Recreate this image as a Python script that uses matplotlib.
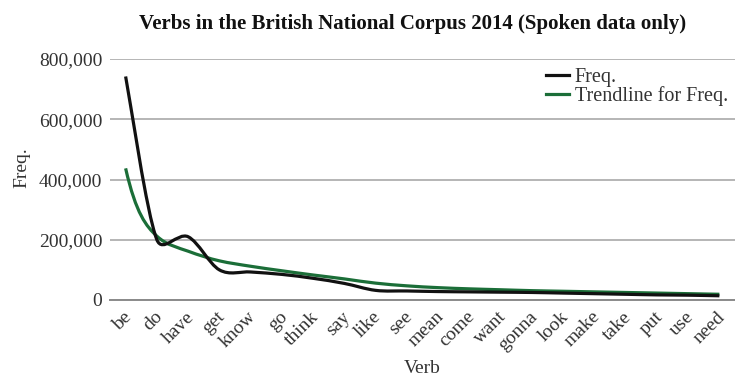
import numpy as np
import matplotlib
matplotlib.use("Agg")
import matplotlib.pyplot as plt
from matplotlib.path import Path
from matplotlib.patches import PathPatch
from matplotlib.lines import Line2D
from matplotlib.ticker import FuncFormatter
import matplotlib.transforms as mtransforms

verbs = ["be", "do", "have", "get", "know", "go", "think", "say", "like", "see",
         "mean", "come", "want", "gonna", "look", "make", "take", "put", "use", "need"]
freq = [742000, 200000, 210000, 100000, 93000, 85000, 72000, 55000, 32000, 30000,
        28000, 27000, 26000, 25000, 23000, 21000, 19000, 17000, 16000, 14000]
trend = [437000, 212000, 162000, 130000, 112000, 97000, 83000, 70000, 56000, 47000,
         41000, 37000, 34000, 31000, 29000, 27000, 25000, 23000, 21000, 19000]
yticks = [0, 200000, 400000, 600000, 800000]

FONT = "Liberation Serif"
plt.rcParams["font.family"] = FONT

fig = plt.figure(figsize=(7.35, 3.81), dpi=100)
ax = fig.add_axes([110 / 735, 81 / 381, 625 / 735, 241 / 381])
ax.set_xlim(-0.5, len(verbs) - 0.5)
ax.set_ylim(0, 800000)


def smooth_path(xs, ys):
    """Excel-like smoothed line: cubic Bezier, control arms computed in display space."""
    fig.canvas.draw()
    pts = ax.transData.transform(np.column_stack([xs, ys]))
    n = len(pts)
    verts = [pts[0]]
    codes = [Path.MOVETO]
    for i in range(n - 1):
        p0 = pts[i - 1] if i > 0 else pts[i]
        p1 = pts[i]
        p2 = pts[i + 1]
        p3 = pts[i + 2] if i + 2 < n else pts[i + 1]
        d12 = np.linalg.norm(p2 - p1)
        t1 = p2 - p0
        t2 = p3 - p1
        n1 = np.linalg.norm(t1)
        n2 = np.linalg.norm(t2)
        a1 = min(n1 / 6, d12 / 2)
        a2 = min(n2 / 6, d12 / 2)
        c1 = p1 + (t1 / n1 * a1 if n1 > 0 else 0)
        c2 = p2 - (t2 / n2 * a2 if n2 > 0 else 0)
        verts += [c1, c2, p2]
        codes += [Path.CURVE4] * 3
    inv = ax.transData.inverted()
    return Path(inv.transform(np.array(verts)), codes)


def power_curve_path(xs, ys):
    """Bezier through the trendline values with tangents of a local power law."""
    xs = np.asarray(xs, float)
    ys = np.asarray(ys, float)
    r = xs + 1.0
    lr, ly = np.log(r), np.log(ys)
    n = len(xs)
    slopes = []
    for i in range(n):
        a, b = max(i - 1, 0), min(i + 1, n - 1)
        expo = (ly[b] - ly[a]) / (lr[b] - lr[a])
        slopes.append(expo * ys[i] / r[i])
    verts = [(xs[0], ys[0])]
    codes = [Path.MOVETO]
    for i in range(n - 1):
        h = xs[i + 1] - xs[i]
        verts += [(xs[i] + h / 3, ys[i] + slopes[i] * h / 3),
                  (xs[i + 1] - h / 3, ys[i + 1] - slopes[i + 1] * h / 3),
                  (xs[i + 1], ys[i + 1])]
        codes += [Path.CURVE4] * 3
    return Path(np.array(verts), codes)


x = np.arange(len(verbs))
black = "#111111"
green = "#1b6e38"
ax.add_patch(PathPatch(power_curve_path(x, trend), fill=False, ec=green, lw=2.3,
                       capstyle="butt", joinstyle="round", zorder=3))
ax.add_patch(PathPatch(smooth_path(x, freq), fill=False, ec=black, lw=2.3,
                       capstyle="butt", joinstyle="round", zorder=4))

ax.set_yticks(yticks)
ax.yaxis.set_major_formatter(FuncFormatter(lambda v, p: f"{int(v):,}"))
ax.set_xticks(x)
ax.set_xticklabels(verbs, rotation=45, ha="right", va="top", rotation_mode="anchor")
ax.tick_params(axis="both", length=0, labelsize=14, colors="#333333")
ax.tick_params(axis="x", pad=6)
ax.tick_params(axis="y", pad=5.5)
shift = mtransforms.ScaledTranslation(-3 / 100, 0, fig.dpi_scale_trans)
for lab in ax.get_xticklabels():
    lab.set_transform(lab.get_transform() + shift)
ax.grid(axis="y", color="#b5b5b5", lw=1.4)
ax.set_axisbelow(True)
for s in ["top", "right", "left"]:
    ax.spines[s].set_visible(False)
ax.spines["bottom"].set_color("#8a8a8a")
ax.spines["bottom"].set_linewidth(1.4)
ax.spines["bottom"].set_zorder(2)

ax.set_ylabel("Freq.", fontsize=14, color="#333333")
ax.yaxis.set_label_coords(-0.128, 0.55)
ax.set_xlabel("Verb", fontsize=14, color="#333333", labelpad=4)
fig.text(0.561, 0.938, "Verbs in the British National Corpus 2014 (Spoken data only)",
         ha="center", va="center", fontsize=15, fontweight="bold", color="#111111")

handles = [Line2D([], [], color=black, lw=2.3), Line2D([], [], color=green, lw=2.3)]
ax.legend(handles, ["Freq.", "Trendline for Freq."], loc="upper right",
          bbox_to_anchor=(1.005, 1.005), frameon=False, fontsize=14.5,
          handlelength=1.15, handletextpad=0.3, labelspacing=-0.05, borderaxespad=0.1,
          labelcolor="#333333")

fig.savefig("out.png", dpi=100)
